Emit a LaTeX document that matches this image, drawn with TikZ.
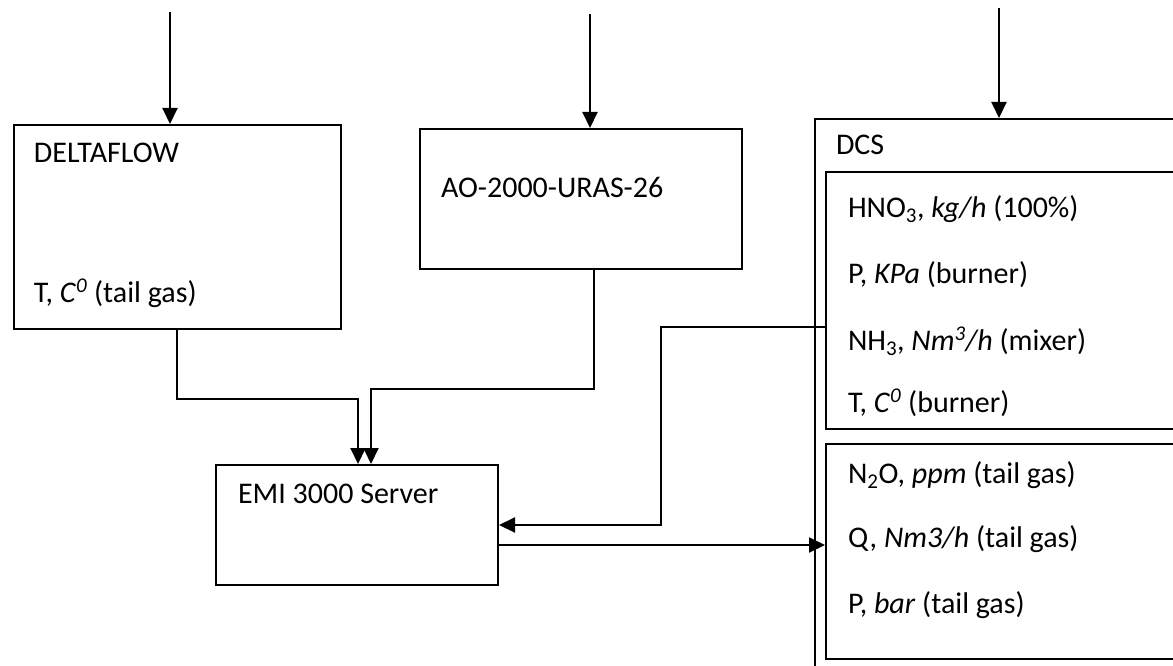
\documentclass[tikz,border=0pt]{standalone}
\usepackage{fontspec}
\setmainfont{Carlito}
\usetikzlibrary{arrows.meta}
\begin{document}
\begin{tikzpicture}[x=1pt,y=-1pt,line width=2pt,
  box/.style={draw,line width=2pt,rectangle,inner sep=0pt,anchor=north west},
  lbl/.style={anchor=base west,inner sep=0pt,font=\fontsize{30}{36}\selectfont},
  arr/.style={-{Triangle[length=16pt,width=15pt]}}]
\useasboundingbox (0,0) rectangle (1173,666);
\clip (0,0) rectangle (1173,666);
% boxes
\node[box,minimum width=327pt,minimum height=204pt] (delta) at (13,124) {};
\node[box,minimum width=322pt,minimum height=140pt] (ao) at (419,128) {};
\node[box,minimum width=282pt,minimum height=120pt] (emi) at (215,464) {};
\node[box,minimum width=420pt,minimum height=600pt] (dcs) at (814,118) {};
\node[box,minimum width=420pt,minimum height=257pt] (dcsa) at (825,171) {};
\node[box,minimum width=420pt,minimum height=215pt] (dcsb) at (825,443) {};
% texts
\node[lbl] (tdelta) at (33,163) {DELTAFLOW};
\node[lbl] (tdeltat) at (33,302) {T, \textit{C}\textsuperscript{\textit{0}} (tail gas)};
\node[lbl] (tao) at (440,197) {AO-2000-URAS-26};
\node[lbl] (temi) at (237,503) {EMI 3000 Server};
\node[lbl] (tdcs) at (835,155) {DCS};
\node[lbl] (thno) at (847,217) {HNO\textsubscript{3}, \textit{kg/h} (100\%)};
\node[lbl] (tkpa) at (847,283) {P, \textit{KPa} (burner)};
\node[lbl] (tnh) at (847,350) {NH\textsubscript{3}, \textit{Nm\textsuperscript{3}/h} (mixer)};
\node[lbl] (tburn) at (847,412) {T, \textit{C}\textsuperscript{\textit{0}} (burner)};
\node[lbl] (tn2o) at (847,483) {N\textsubscript{2}O, \textit{ppm} (tail gas)};
\node[lbl] (tq) at (847,547) {Q, \textit{Nm3/h} (tail gas)};
\node[lbl] (tbar) at (847,613) {P, \textit{bar} (tail gas)};
% incoming arrows
\coordinate (indelta) at (170,12);
\coordinate (inao) at (590,14);
\coordinate (indcs) at (999,8);
\draw[arr] (indelta) -- (indelta |- delta.north);
\draw[arr] (inao) -- (inao |- ao.north);
\draw[arr] (indcs) -- (indcs |- dcs.north);
% to EMI
\draw[arr] ([xshift=-0.5pt]delta.south) -- ++(0,69) -| ([xshift=1pt]emi.north);
\draw[arr] ([xshift=13pt]ao.south) -- ++(0,119) -| ([xshift=14pt]emi.north);
\draw[arr] ([yshift=-26.5pt]dcsa.west) -- ++(-164,0) |- (emi.east);
% EMI to DCS
\draw[arr] ([yshift=-20pt]emi.east) -- ([yshift=-20pt]emi.east -| dcsb.west);
\end{tikzpicture}
\end{document}
